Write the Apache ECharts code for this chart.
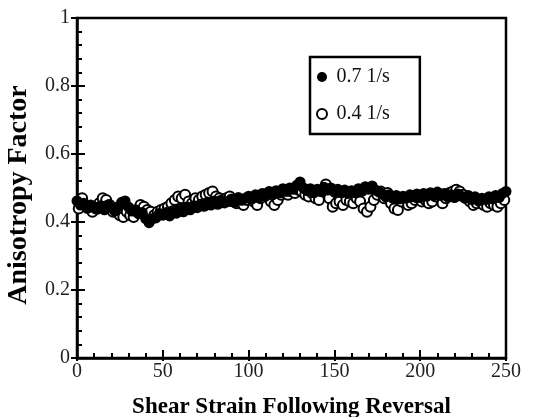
<!DOCTYPE html>
<html><head><meta charset="utf-8">
<script src="https://cdn.jsdelivr.net/npm/echarts@6/dist/echarts.min.js"></script>
<style>html,body{margin:0;padding:0;background:#fff}#c{width:553px;height:417px}</style>
</head><body><div id="c"></div>
<script>
var xTicks = [0, 50, 100, 150, 200, 250];
var yTicks = [0, 0.2, 0.4, 0.6, 0.8, 1];
var seriesNames = ['0.7 1/s', '0.4 1/s'];
var strainA = [0,2,4,6,8,10,12,14,16,18,20,22,24,26,28,30,32,34,36,38,40,42,44,46,48,50,52,54,56,58,60,62,64,66,68,70,72,74,76,78,80,82,84,86,88,90,92,94,96,98,100,102,104,106,108,110,112,114,116,118,120,122,124,126,128,130,132,134,136,138,140,142,144,146,148,150,152,154,156,158,160,162,164,166,168,170,172,174,176,178,180,182,184,186,188,190,192,194,196,198,200,202,204,206,208,210,212,214,216,218,220,222,224,226,228,230,232,234,236,238,240,242,244,246,248,250];
var factorA = [.462,.45,.455,.44,.45,.445,.438,.448,.436,.45,.442,.432,.445,.458,.462,.444,.432,.436,.424,.428,.41,.398,.41,.412,.425,.42,.428,.418,.434,.426,.438,.43,.444,.436,.448,.442,.452,.446,.458,.45,.462,.452,.464,.456,.46,.468,.458,.472,.464,.47,.476,.468,.48,.472,.484,.476,.49,.48,.492,.486,.498,.49,.5,.496,.508,.518,.5,.492,.498,.486,.496,.49,.502,.494,.5,.488,.496,.486,.494,.484,.492,.486,.498,.49,.504,.496,.506,.494,.488,.482,.474,.48,.47,.478,.468,.476,.47,.48,.474,.482,.472,.484,.476,.486,.478,.488,.478,.484,.474,.48,.472,.482,.476,.47,.478,.466,.474,.462,.47,.466,.474,.468,.478,.472,.484,.49];
var strainB = [1,3,5,7,9,11,13,15,17,19,21,23,25,27,29,31,33,35,37,39,41,43,45,47,49,51,53,55,57,59,61,63,65,67,69,71,73,75,77,79,81,83,85,87,89,91,93,95,97,99,101,103,105,107,109,111,113,115,117,119,121,123,125,127,129,131,133,135,137,139,141,143,145,147,149,151,153,155,157,159,161,163,165,167,169,171,173,175,177,179,181,183,185,187,189,191,193,195,197,199,201,203,205,207,209,211,213,215,217,219,221,223,225,227,229,231,233,235,237,239,241,243,245,247,249];
var factorB = [.44,.47,.45,.445,.43,.44,.455,.47,.465,.45,.43,.435,.42,.415,.43,.42,.415,.43,.45,.445,.435,.43,.42,.43,.435,.44,.445,.455,.465,.475,.47,.48,.46,.455,.47,.465,.475,.48,.485,.49,.475,.47,.465,.47,.475,.46,.455,.46,.45,.465,.47,.46,.45,.47,.48,.475,.46,.45,.465,.48,.485,.48,.49,.485,.495,.49,.48,.475,.485,.47,.465,.49,.51,.47,.445,.455,.46,.45,.465,.46,.455,.47,.46,.44,.43,.445,.465,.48,.49,.47,.485,.455,.44,.435,.46,.47,.45,.455,.465,.47,.46,.465,.455,.46,.475,.48,.455,.47,.485,.49,.495,.49,.48,.47,.46,.45,.455,.46,.45,.445,.455,.45,.445,.455,.465];

function pairs(xs, ys){ return xs.map(function(x,i){ return [x, ys[i]]; }); }

var serif = 'Liberation Serif';
var chart = echarts.init(document.getElementById('c'));
chart.setOption({
  animation: false,
  backgroundColor: '#fff',
  grid: {left: 77, right: 47, top: 18, bottom: 59, outerBoundsMode: 'none', containLabel: false,
         show: true, borderColor: '#000', borderWidth: 2.5, backgroundColor: 'transparent'},
  legend: {
    left: 310, top: 57, orient: 'vertical',
    data: [
      {name: seriesNames[0], icon: 'circle', itemStyle: {color: '#000'}},
      {name: seriesNames[1], icon: 'circle', itemStyle: {color: '#fff', borderColor: '#000', borderWidth: 2}}
    ],
    borderColor: '#000', borderWidth: 2.5, padding: [10, 30, 10, 6],
    itemWidth: 19, itemHeight: 10, itemGap: 17,
    textStyle: {fontFamily: serif, fontSize: 20, color: '#111'}
  },
  xAxis: [{
    type: 'value', min: 0, max: 250, interval: 50,
    name: 'Shear Strain Following Reversal', nameLocation: 'middle', nameGap: 38,
    nameTextStyle: {fontFamily: serif, fontWeight: 'bold', fontSize: 23, color: '#000'},
    axisLine: {show: true, lineStyle: {color: '#000', width: 2.5}},
    axisTick: {show: true, inside: true, length: 8, lineStyle: {color: '#000', width: 2}},
    minorTick: {show: true, splitNumber: 5, length: 5, lineStyle: {color: '#000', width: 2}},
    splitLine: {show: false},
    axisLabel: {fontFamily: serif, fontSize: 20, color: '#222', margin: 4}
  }, {
    type: 'value', min: 0, max: 250, interval: 50, position: 'bottom',
    axisLine: {show: false}, axisLabel: {show: false}, splitLine: {show: false},
    axisTick: {show: true, inside: false, length: 3, lineStyle: {color: '#000', width: 2}}
  }],
  yAxis: [{
    type: 'value', min: 0, max: 1, interval: 0.2,
    name: 'Anisotropy Factor', nameLocation: 'middle', nameGap: 44,
    nameTextStyle: {fontFamily: serif, fontWeight: 'bold', fontSize: 28, color: '#000', padding: [0, 14, 0, 0]},
    axisLine: {show: true, lineStyle: {color: '#000', width: 2.5}},
    axisTick: {show: true, inside: true, length: 8, lineStyle: {color: '#000', width: 2}},
    minorTick: {show: true, splitNumber: 5, length: 5, lineStyle: {color: '#000', width: 2}},
    splitLine: {show: false},
    axisLabel: {fontFamily: serif, fontSize: 20, color: '#222', margin: 7}
  }, {
    type: 'value', min: 0, max: 1, interval: 0.2, position: 'left',
    axisLine: {show: false}, axisLabel: {show: false}, splitLine: {show: false},
    axisTick: {show: true, inside: false, length: 6, lineStyle: {color: '#000', width: 2}}
  }],
  series: [{
    name: seriesNames[0], type: 'scatter', data: pairs(strainA, factorA), z: 3,
    symbol: 'circle', symbolSize: 11,
    itemStyle: {color: '#000', opacity: 1}
  }, {
    name: seriesNames[1], type: 'scatter', data: pairs(strainB, factorB), z: 2,
    symbol: 'circle', symbolSize: 10,
    itemStyle: {color: '#fff', borderColor: '#000', borderWidth: 2, opacity: 1}
  }]
});
</script></body></html>
